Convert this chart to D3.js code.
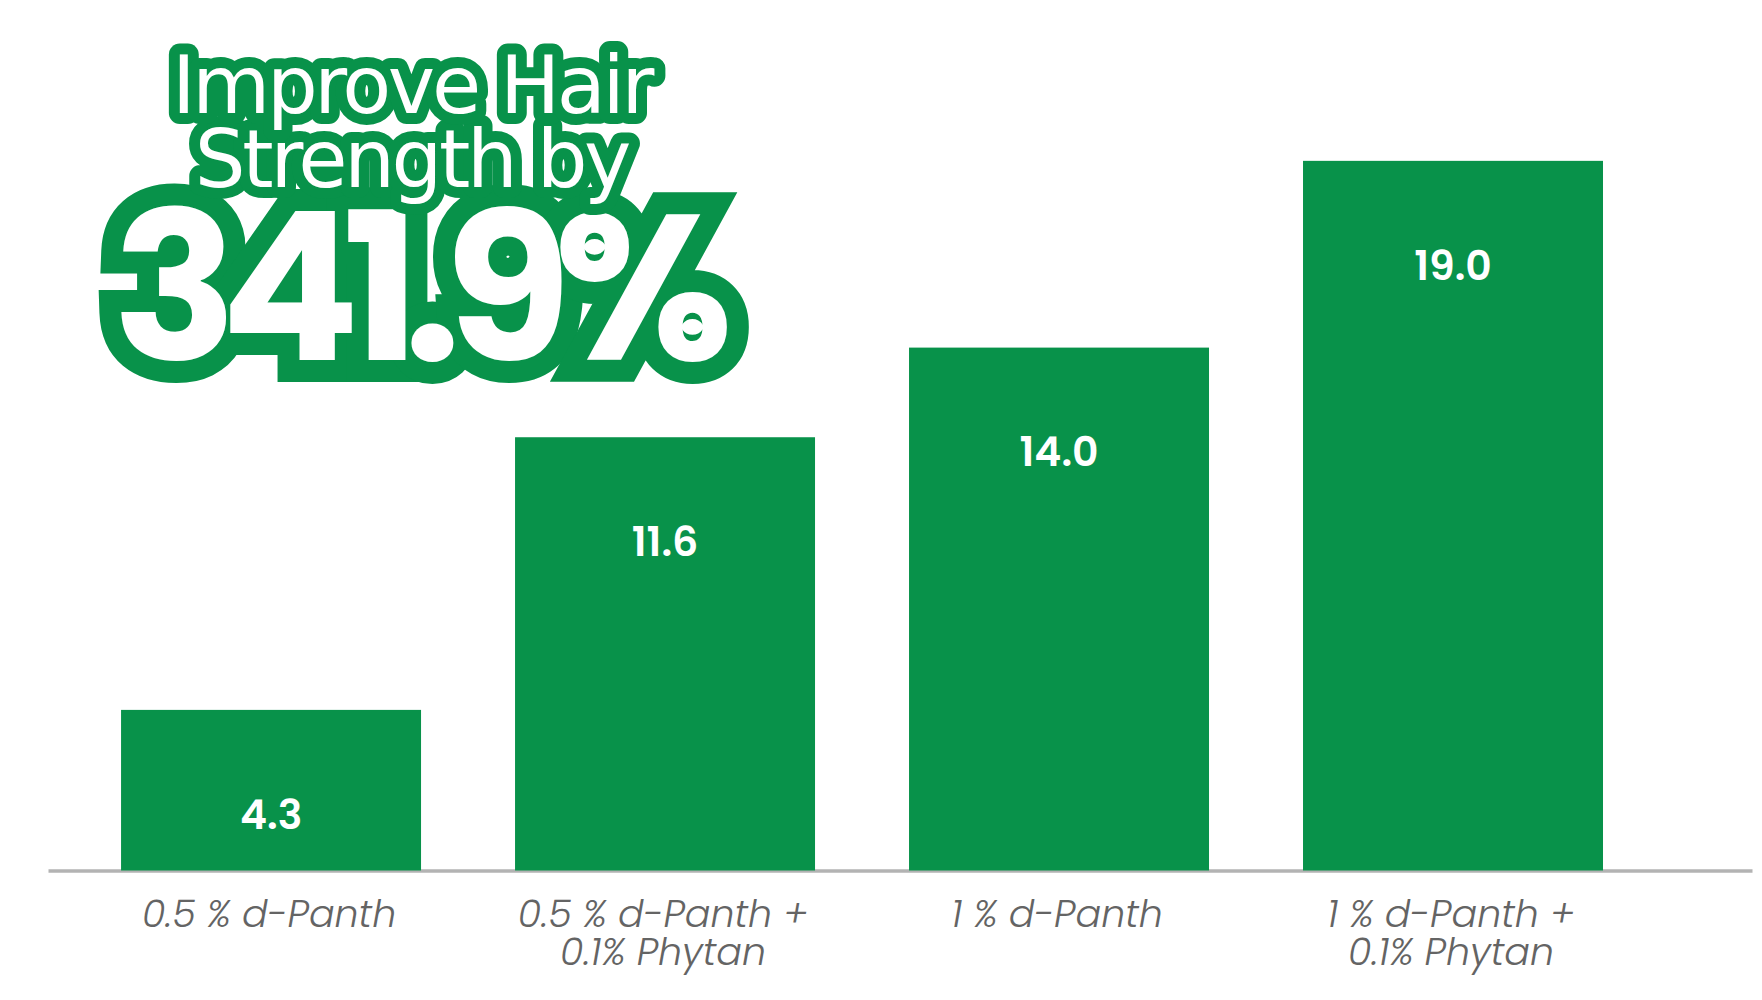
<!DOCTYPE html>
<html>
<head>
<meta charset="utf-8">
<script src="https://cdn.jsdelivr.net/npm/d3@7"></script>
<style>
  html, body { margin: 0; padding: 0; background: #ffffff; }
  svg { display: block; }
</style>
</head>
<body>
<svg id="chart" width="1762" height="1000"></svg>
<script>
// ---- data ----
const categories = ["0.5 % d-Panth", "0.5 % d-Panth + 0.1% Phytan", "1 % d-Panth", "1 % d-Panth + 0.1% Phytan"];
const categoryLines = [["0.5 % d-Panth"], ["0.5 % d-Panth +", "0.1% Phytan"], ["1 % d-Panth"], ["1 % d-Panth +", "0.1% Phytan"]];
const values = [4.3, 11.6, 14.0, 19.0];
const valueLabels = ["4.3", "11.6", "14.0", "19.0"];
const titleLines = ["Improve Hair", "Strength by"];
const headline = "341.9%";

// ---- styles ----
const GREEN = "#08924a";
const W = 1762, H = 1000;
const svg = d3.select("#chart");
svg.append("rect").attr("width", W).attr("height", H).attr("fill", "#fff");

const x = d3.scaleBand()
  .domain(categories)
  .range([48, 1752])
  .paddingInner(0.2386)
  .paddingOuter(0.2818)
  .align(0.329);

const y = d3.scaleLinear().domain([0, 20]).range([870.5, 123.5]);

// ---- axis ----
const axis = svg.append("g")
  .attr("transform", `translate(0,${y(0)})`)
  .call(d3.axisBottom(x).tickSize(0).tickSizeOuter(0).tickFormat(""));
axis.select(".domain").attr("stroke", "#b3b3b3").attr("stroke-width", 3.5);

const tickLabels = svg.append("g").selectAll("text")
  .data(categories)
  .join("text")
  .attr("x", d => x(d) + x.bandwidth() / 2 - 2)
  .attr("y", y(0) + 56)
  .attr("text-anchor", "middle")
  .attr("font-family", "Poppins, 'Open Sans', sans-serif")
  .attr("font-style", "italic")
  .attr("font-weight", 300)
  .attr("font-size", 38)
  .attr("fill", "#646464");
tickLabels.each(function(d, i) {
  const t = d3.select(this);
  categoryLines[i].forEach((line, j) => {
    t.append("tspan")
      .attr("x", x(d) + x.bandwidth() / 2 - 2)
      .attr("dy", j === 0 ? 0 : 38.5)
      .text(line);
  });
});

// ---- bars ----
svg.append("g").selectAll("rect")
  .data(values)
  .join("rect")
  .attr("x", (d, i) => x(categories[i]))
  .attr("y", d => y(d))
  .attr("width", x.bandwidth())
  .attr("height", d => y(0) - y(d))
  .attr("fill", GREEN);

svg.append("g").selectAll("text")
  .data(values)
  .join("text")
  .attr("x", (d, i) => x(categories[i]) + x.bandwidth() / 2)
  .attr("y", d => y(d) + 104)
  .attr("dy", "0.36em")
  .attr("text-anchor", "middle")
  .attr("font-family", "Poppins, Inter, sans-serif")
  .attr("font-weight", 600)
  .attr("font-size", 41)
  .attr("fill", "#ffffff")
  .text((d, i) => valueLabels[i]);

// ---- headline: white text with thick green outline ----
const titleSpecs = [
  { text: headline, x: 414.5, y: 360, size: 206, family: "Poppins, Inter, sans-serif", weight: 700, ls: -17, sw: 44, join: "miter" },
  { text: titleLines[1], x: 411.5, y: 187, size: 80, family: "'DejaVu Sans', sans-serif", weight: 400, ls: -3.3, sw: 22, join: "round" },
  { text: titleLines[0], x: 411.5, y: 113, size: 80, family: "'DejaVu Sans', sans-serif", weight: 400, ls: -3.3, sw: 22, join: "round" }
];
svg.append("g").selectAll("text")
  .data(titleSpecs)
  .join("text")
  .attr("x", d => d.x).attr("y", d => d.y)
  .attr("text-anchor", "middle")
  .attr("font-family", d => d.family)
  .attr("font-weight", d => d.weight)
  .attr("font-size", d => d.size)
  .attr("letter-spacing", d => d.ls)
  .attr("fill", "#ffffff")
  .attr("stroke", GREEN)
  .attr("stroke-width", d => d.sw)
  .attr("stroke-linejoin", d => d.join)
  .attr("stroke-miterlimit", 2)
  .attr("paint-order", "stroke")
  .text(d => d.text);
</script>
</body>
</html>
